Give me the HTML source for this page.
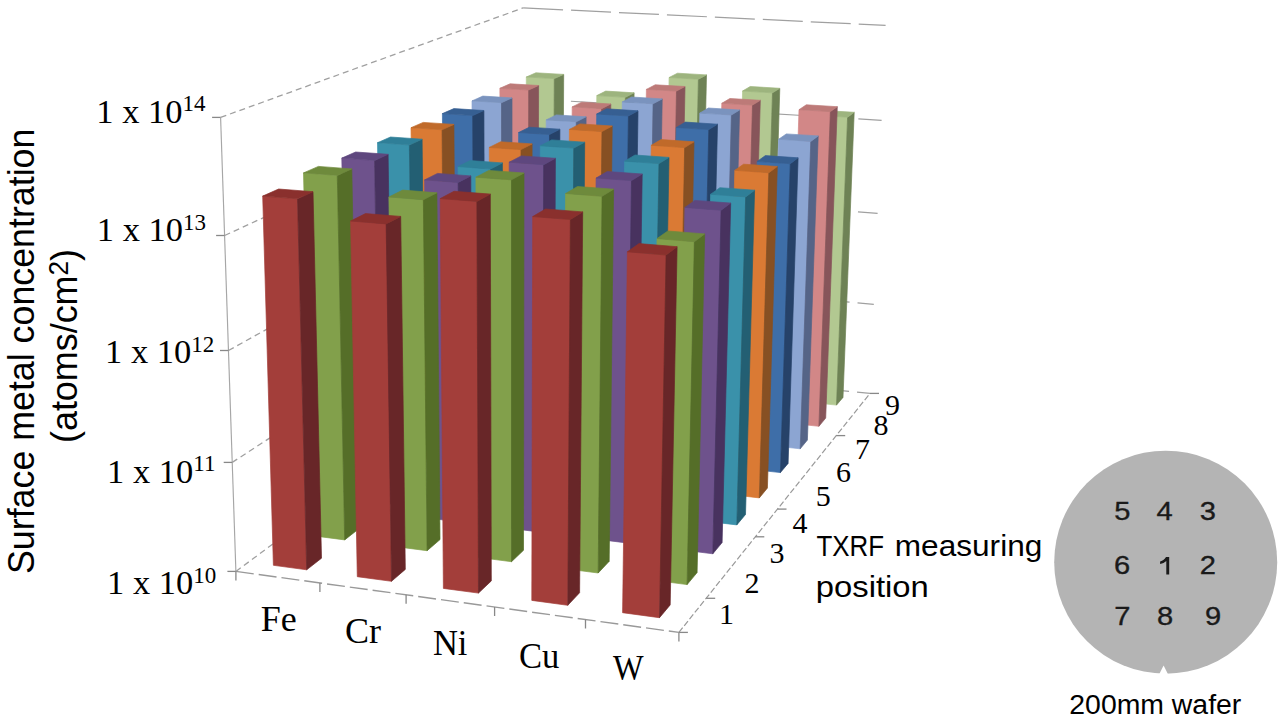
<!DOCTYPE html>
<html><head><meta charset="utf-8"><style>
html,body{margin:0;padding:0;background:#fff;width:1280px;height:722px;overflow:hidden}
svg{display:block}
</style></head><body>
<svg width="1280" height="722" viewBox="0 0 1280 722">
<rect width="1280" height="722" fill="#fff"/>
<line x1="235.9" y1="571.4" x2="522.7" y2="358.6" stroke="#a0a0a0" stroke-width="1.3" stroke-dasharray="6 4"/>
<line x1="522.7" y1="358.6" x2="870.0" y2="393.4" stroke="#a0a0a0" stroke-width="1.2" stroke-dasharray="40 8"/>
<line x1="232.2" y1="462.4" x2="522.8" y2="273.6" stroke="#a0a0a0" stroke-width="1.3" stroke-dasharray="6 4"/>
<line x1="522.8" y1="273.6" x2="873.8" y2="304.3" stroke="#a0a0a0" stroke-width="1.2" stroke-dasharray="40 8"/>
<line x1="228.5" y1="350.5" x2="522.9" y2="186.8" stroke="#a0a0a0" stroke-width="1.3" stroke-dasharray="6 4"/>
<line x1="522.9" y1="186.8" x2="877.6" y2="213.3" stroke="#a0a0a0" stroke-width="1.2" stroke-dasharray="40 8"/>
<line x1="224.6" y1="235.5" x2="523.0" y2="98.3" stroke="#a0a0a0" stroke-width="1.3" stroke-dasharray="6 4"/>
<line x1="523.0" y1="98.3" x2="881.6" y2="120.4" stroke="#a0a0a0" stroke-width="1.2" stroke-dasharray="40 8"/>
<line x1="220.6" y1="117.4" x2="523.1" y2="7.9" stroke="#a0a0a0" stroke-width="1.3" stroke-dasharray="6 4"/>
<line x1="523.1" y1="7.9" x2="885.6" y2="25.4" stroke="#a0a0a0" stroke-width="1.2" stroke-dasharray="40 8"/>
<line x1="235.9" y1="571.4" x2="220.6" y2="117.4" stroke="#a6a6a6" stroke-width="1.15"/>
<line x1="227.4" y1="571.4" x2="235.9" y2="571.4" stroke="#888" stroke-width="1.3"/>
<line x1="223.7" y1="462.4" x2="232.2" y2="462.4" stroke="#888" stroke-width="1.3"/>
<line x1="220.0" y1="350.5" x2="228.5" y2="350.5" stroke="#888" stroke-width="1.3"/>
<line x1="216.1" y1="235.5" x2="224.6" y2="235.5" stroke="#888" stroke-width="1.3"/>
<line x1="212.1" y1="117.4" x2="220.6" y2="117.4" stroke="#888" stroke-width="1.3"/>
<line x1="235.9" y1="571.4" x2="678.9" y2="632.4" stroke="#999" stroke-width="1.4" stroke-dasharray="18 5"/>
<line x1="678.9" y1="632.4" x2="870.0" y2="393.4" stroke="#999" stroke-width="1.2" stroke-dasharray="6 2.5"/>
<line x1="235.9" y1="571.4" x2="235.9" y2="580.4" stroke="#888" stroke-width="1.3"/>
<line x1="319.9" y1="583.0" x2="319.9" y2="592.0" stroke="#888" stroke-width="1.3"/>
<line x1="406.1" y1="594.8" x2="406.1" y2="603.8" stroke="#888" stroke-width="1.3"/>
<line x1="494.6" y1="607.0" x2="494.6" y2="616.0" stroke="#888" stroke-width="1.3"/>
<line x1="585.5" y1="619.5" x2="585.5" y2="628.5" stroke="#888" stroke-width="1.3"/>
<line x1="678.9" y1="632.4" x2="678.9" y2="641.4" stroke="#888" stroke-width="1.3"/>
<line x1="678.9" y1="632.4" x2="687.9" y2="632.4" stroke="#888" stroke-width="1.3"/>
<line x1="706.2" y1="598.3" x2="715.2" y2="598.3" stroke="#888" stroke-width="1.3"/>
<line x1="755.3" y1="536.8" x2="764.3" y2="536.8" stroke="#888" stroke-width="1.3"/>
<line x1="777.5" y1="509.1" x2="786.5" y2="509.1" stroke="#888" stroke-width="1.3"/>
<line x1="836.2" y1="435.6" x2="845.2" y2="435.6" stroke="#888" stroke-width="1.3"/>
<line x1="870.0" y1="393.4" x2="879.0" y2="393.4" stroke="#888" stroke-width="1.3"/>
<polygon points="525.8,373.3 552.9,376.1 554.3,78.6 526.3,77.0" fill="#B2C891" stroke="#B2C891" stroke-width="0.7" stroke-linejoin="round"/>
<polygon points="552.9,376.1 562.0,369.0 563.7,74.4 554.3,78.6" fill="#6E8255" stroke="#6E8255" stroke-width="0.7" stroke-linejoin="round"/>
<polygon points="526.3,77.0 554.3,78.6 563.7,74.4 535.9,72.8" fill="#9DB47E" stroke="#9DB47E" stroke-width="0.7" stroke-linejoin="round"/>
<polygon points="594.0,380.3 621.7,383.2 625.4,97.3 596.8,95.6" fill="#B2C891" stroke="#B2C891" stroke-width="0.7" stroke-linejoin="round"/>
<polygon points="621.7,383.2 630.1,375.9 634.1,92.8 625.4,97.3" fill="#6E8255" stroke="#6E8255" stroke-width="0.7" stroke-linejoin="round"/>
<polygon points="596.8,95.6 625.4,97.3 634.1,92.8 605.7,91.1" fill="#9DB47E" stroke="#9DB47E" stroke-width="0.7" stroke-linejoin="round"/>
<polygon points="663.6,387.4 691.8,390.3 698.4,79.2 669.1,77.5" fill="#B2C891" stroke="#B2C891" stroke-width="0.7" stroke-linejoin="round"/>
<polygon points="691.8,390.3 699.6,382.9 706.5,74.9 698.4,79.2" fill="#6E8255" stroke="#6E8255" stroke-width="0.7" stroke-linejoin="round"/>
<polygon points="669.1,77.5 698.4,79.2 706.5,74.9 677.5,73.2" fill="#9DB47E" stroke="#9DB47E" stroke-width="0.7" stroke-linejoin="round"/>
<polygon points="734.6,394.7 763.4,397.7 772.5,92.8 742.6,91.0" fill="#B2C891" stroke="#B2C891" stroke-width="0.7" stroke-linejoin="round"/>
<polygon points="763.4,397.7 770.6,390.1 779.8,88.3 772.5,92.8" fill="#6E8255" stroke="#6E8255" stroke-width="0.7" stroke-linejoin="round"/>
<polygon points="742.6,91.0 772.5,92.8 779.8,88.3 750.2,86.5" fill="#9DB47E" stroke="#9DB47E" stroke-width="0.7" stroke-linejoin="round"/>
<polygon points="500.4,392.7 528.1,395.6 528.7,90.0 499.9,88.3" fill="#D28787" stroke="#D28787" stroke-width="0.7" stroke-linejoin="round"/>
<polygon points="528.1,395.6 537.7,388.1 538.6,85.5 528.7,90.0" fill="#87555A" stroke="#87555A" stroke-width="0.7" stroke-linejoin="round"/>
<polygon points="499.9,88.3 528.7,90.0 538.6,85.5 510.1,83.8" fill="#BD7A78" stroke="#BD7A78" stroke-width="0.7" stroke-linejoin="round"/>
<polygon points="807.1,402.1 836.5,405.1 847.6,117.2 817.2,115.3" fill="#B2C891" stroke="#B2C891" stroke-width="0.7" stroke-linejoin="round"/>
<polygon points="836.5,405.1 843.0,397.4 854.2,112.3 847.6,117.2" fill="#6E8255" stroke="#6E8255" stroke-width="0.7" stroke-linejoin="round"/>
<polygon points="817.2,115.3 847.6,117.2 854.2,112.3 824.0,110.5" fill="#9DB47E" stroke="#9DB47E" stroke-width="0.7" stroke-linejoin="round"/>
<polygon points="570.2,400.1 598.5,403.1 601.6,108.7 572.2,106.9" fill="#D28787" stroke="#D28787" stroke-width="0.7" stroke-linejoin="round"/>
<polygon points="598.5,403.1 607.5,395.4 610.8,104.0 601.6,108.7" fill="#87555A" stroke="#87555A" stroke-width="0.7" stroke-linejoin="round"/>
<polygon points="572.2,106.9 601.6,108.7 610.8,104.0 581.7,102.2" fill="#BD7A78" stroke="#BD7A78" stroke-width="0.7" stroke-linejoin="round"/>
<polygon points="641.5,407.6 670.4,410.6 676.5,91.1 646.4,89.4" fill="#D28787" stroke="#D28787" stroke-width="0.7" stroke-linejoin="round"/>
<polygon points="670.4,410.6 678.7,402.8 685.0,86.5 676.5,91.1" fill="#87555A" stroke="#87555A" stroke-width="0.7" stroke-linejoin="round"/>
<polygon points="646.4,89.4 676.5,91.1 685.0,86.5 655.2,84.8" fill="#BD7A78" stroke="#BD7A78" stroke-width="0.7" stroke-linejoin="round"/>
<polygon points="714.3,415.3 743.9,418.4 752.5,105.1 721.8,103.3" fill="#D28787" stroke="#D28787" stroke-width="0.7" stroke-linejoin="round"/>
<polygon points="743.9,418.4 751.4,410.4 760.3,100.3 752.5,105.1" fill="#87555A" stroke="#87555A" stroke-width="0.7" stroke-linejoin="round"/>
<polygon points="721.8,103.3 752.5,105.1 760.3,100.3 729.9,98.5" fill="#BD7A78" stroke="#BD7A78" stroke-width="0.7" stroke-linejoin="round"/>
<polygon points="473.5,413.1 501.9,416.2 501.5,102.7 472.0,100.9" fill="#8CA5D2" stroke="#8CA5D2" stroke-width="0.7" stroke-linejoin="round"/>
<polygon points="501.9,416.2 512.1,408.3 512.0,97.9 501.5,102.7" fill="#556487" stroke="#556487" stroke-width="0.7" stroke-linejoin="round"/>
<polygon points="472.0,100.9 501.5,102.7 512.0,97.9 482.8,96.1" fill="#7A93BE" stroke="#7A93BE" stroke-width="0.7" stroke-linejoin="round"/>
<polygon points="788.7,423.1 818.9,426.3 830.4,111.6 799.0,109.7" fill="#D28787" stroke="#D28787" stroke-width="0.7" stroke-linejoin="round"/>
<polygon points="818.9,426.3 825.7,418.1 837.3,106.7 830.4,111.6" fill="#87555A" stroke="#87555A" stroke-width="0.7" stroke-linejoin="round"/>
<polygon points="799.0,109.7 830.4,111.6 837.3,106.7 806.3,104.8" fill="#BD7A78" stroke="#BD7A78" stroke-width="0.7" stroke-linejoin="round"/>
<polygon points="545.0,420.9 574.1,424.1 576.3,121.8 546.2,119.9" fill="#8CA5D2" stroke="#8CA5D2" stroke-width="0.7" stroke-linejoin="round"/>
<polygon points="574.1,424.1 583.6,416.0 586.1,116.8 576.3,121.8" fill="#556487" stroke="#556487" stroke-width="0.7" stroke-linejoin="round"/>
<polygon points="546.2,119.9 576.3,121.8 586.1,116.8 556.3,114.9" fill="#7A93BE" stroke="#7A93BE" stroke-width="0.7" stroke-linejoin="round"/>
<polygon points="618.1,428.9 647.8,432.1 653.1,103.8 622.3,101.9" fill="#8CA5D2" stroke="#8CA5D2" stroke-width="0.7" stroke-linejoin="round"/>
<polygon points="647.8,432.1 656.6,423.8 662.2,98.9 653.1,103.8" fill="#556487" stroke="#556487" stroke-width="0.7" stroke-linejoin="round"/>
<polygon points="622.3,101.9 653.1,103.8 662.2,98.9 631.6,97.0" fill="#7A93BE" stroke="#7A93BE" stroke-width="0.7" stroke-linejoin="round"/>
<polygon points="445.0,434.8 474.2,438.1 472.7,115.6 442.4,113.6" fill="#3E6EA8" stroke="#3E6EA8" stroke-width="0.7" stroke-linejoin="round"/>
<polygon points="474.2,438.1 484.9,429.6 483.9,110.5 472.7,115.6" fill="#264269" stroke="#264269" stroke-width="0.7" stroke-linejoin="round"/>
<polygon points="442.4,113.6 472.7,115.6 483.9,110.5 453.9,108.6" fill="#365F92" stroke="#365F92" stroke-width="0.7" stroke-linejoin="round"/>
<polygon points="692.8,437.1 723.2,440.4 731.4,115.0 699.8,113.1" fill="#8CA5D2" stroke="#8CA5D2" stroke-width="0.7" stroke-linejoin="round"/>
<polygon points="723.2,440.4 731.2,431.9 739.6,110.0 731.4,115.0" fill="#556487" stroke="#556487" stroke-width="0.7" stroke-linejoin="round"/>
<polygon points="699.8,113.1 731.4,115.0 739.6,110.0 708.4,108.0" fill="#7A93BE" stroke="#7A93BE" stroke-width="0.7" stroke-linejoin="round"/>
<polygon points="769.2,445.4 800.2,448.8 810.8,141.4 778.6,139.3" fill="#8CA5D2" stroke="#8CA5D2" stroke-width="0.7" stroke-linejoin="round"/>
<polygon points="800.2,448.8 807.4,440.1 818.2,135.9 810.8,141.4" fill="#556487" stroke="#556487" stroke-width="0.7" stroke-linejoin="round"/>
<polygon points="778.6,139.3 810.8,141.4 818.2,135.9 786.3,133.9" fill="#7A93BE" stroke="#7A93BE" stroke-width="0.7" stroke-linejoin="round"/>
<polygon points="518.4,443.0 548.2,446.4 549.5,134.5 518.6,132.5" fill="#3E6EA8" stroke="#3E6EA8" stroke-width="0.7" stroke-linejoin="round"/>
<polygon points="548.2,446.4 558.2,437.8 559.9,129.2 549.5,134.5" fill="#264269" stroke="#264269" stroke-width="0.7" stroke-linejoin="round"/>
<polygon points="518.6,132.5 549.5,134.5 559.9,129.2 529.3,127.2" fill="#365F92" stroke="#365F92" stroke-width="0.7" stroke-linejoin="round"/>
<polygon points="593.4,451.5 623.9,454.9 628.4,116.0 596.7,114.0" fill="#3E6EA8" stroke="#3E6EA8" stroke-width="0.7" stroke-linejoin="round"/>
<polygon points="623.9,454.9 633.1,446.1 638.0,110.8 628.4,116.0" fill="#264269" stroke="#264269" stroke-width="0.7" stroke-linejoin="round"/>
<polygon points="596.7,114.0 628.4,116.0 638.0,110.8 606.6,108.8" fill="#365F92" stroke="#365F92" stroke-width="0.7" stroke-linejoin="round"/>
<polygon points="414.9,457.7 444.8,461.2 442.1,129.8 411.0,127.7" fill="#DA7A34" stroke="#DA7A34" stroke-width="0.7" stroke-linejoin="round"/>
<polygon points="444.8,461.2 456.1,452.3 453.9,124.4 442.1,129.8" fill="#875023" stroke="#875023" stroke-width="0.7" stroke-linejoin="round"/>
<polygon points="411.0,127.7 442.1,129.8 453.9,124.4 423.2,122.4" fill="#C06A2A" stroke="#C06A2A" stroke-width="0.7" stroke-linejoin="round"/>
<polygon points="670.1,460.2 701.2,463.7 708.8,129.6 676.3,127.5" fill="#3E6EA8" stroke="#3E6EA8" stroke-width="0.7" stroke-linejoin="round"/>
<polygon points="701.2,463.7 709.7,454.6 717.5,124.2 708.8,129.6" fill="#264269" stroke="#264269" stroke-width="0.7" stroke-linejoin="round"/>
<polygon points="676.3,127.5 708.8,129.6 717.5,124.2 685.4,122.1" fill="#365F92" stroke="#365F92" stroke-width="0.7" stroke-linejoin="round"/>
<polygon points="748.5,469.0 780.4,472.6 790.3,163.7 757.2,161.4" fill="#3E6EA8" stroke="#3E6EA8" stroke-width="0.7" stroke-linejoin="round"/>
<polygon points="780.4,472.6 788.1,463.4 798.1,157.8 790.3,163.7" fill="#264269" stroke="#264269" stroke-width="0.7" stroke-linejoin="round"/>
<polygon points="757.2,161.4 790.3,163.7 798.1,157.8 765.4,155.6" fill="#365F92" stroke="#365F92" stroke-width="0.7" stroke-linejoin="round"/>
<polygon points="490.1,466.5 520.7,470.1 521.0,149.6 489.3,147.4" fill="#DA7A34" stroke="#DA7A34" stroke-width="0.7" stroke-linejoin="round"/>
<polygon points="520.7,470.1 531.3,460.9 532.1,143.9 521.0,149.6" fill="#875023" stroke="#875023" stroke-width="0.7" stroke-linejoin="round"/>
<polygon points="489.3,147.4 521.0,149.6 532.1,143.9 500.6,141.8" fill="#C06A2A" stroke="#C06A2A" stroke-width="0.7" stroke-linejoin="round"/>
<polygon points="567.1,475.5 598.4,479.1 602.0,131.5 569.4,129.4" fill="#DA7A34" stroke="#DA7A34" stroke-width="0.7" stroke-linejoin="round"/>
<polygon points="598.4,479.1 608.2,469.8 612.2,126.0 602.0,131.5" fill="#875023" stroke="#875023" stroke-width="0.7" stroke-linejoin="round"/>
<polygon points="569.4,129.4 602.0,131.5 612.2,126.0 579.9,123.9" fill="#C06A2A" stroke="#C06A2A" stroke-width="0.7" stroke-linejoin="round"/>
<polygon points="382.8,482.1 413.5,485.8 409.4,145.0 377.5,142.7" fill="#3A91AA" stroke="#3A91AA" stroke-width="0.7" stroke-linejoin="round"/>
<polygon points="413.5,485.8 425.6,476.3 422.1,139.2 409.4,145.0" fill="#235F73" stroke="#235F73" stroke-width="0.7" stroke-linejoin="round"/>
<polygon points="377.5,142.7 409.4,145.0 422.1,139.2 390.5,137.0" fill="#2F7F98" stroke="#2F7F98" stroke-width="0.7" stroke-linejoin="round"/>
<polygon points="645.9,484.7 677.9,488.4 684.7,147.6 651.3,145.3" fill="#DA7A34" stroke="#DA7A34" stroke-width="0.7" stroke-linejoin="round"/>
<polygon points="677.9,488.4 686.9,478.8 694.0,141.8 684.7,147.6" fill="#875023" stroke="#875023" stroke-width="0.7" stroke-linejoin="round"/>
<polygon points="651.3,145.3 684.7,147.6 694.0,141.8 661.0,139.6" fill="#C06A2A" stroke="#C06A2A" stroke-width="0.7" stroke-linejoin="round"/>
<polygon points="726.5,494.1 759.3,497.9 768.9,172.7 734.8,170.3" fill="#DA7A34" stroke="#DA7A34" stroke-width="0.7" stroke-linejoin="round"/>
<polygon points="759.3,497.9 767.4,488.1 777.3,166.5 768.9,172.7" fill="#875023" stroke="#875023" stroke-width="0.7" stroke-linejoin="round"/>
<polygon points="734.8,170.3 768.9,172.7 777.3,166.5 743.6,164.2" fill="#C06A2A" stroke="#C06A2A" stroke-width="0.7" stroke-linejoin="round"/>
<polygon points="460.1,491.4 491.5,495.2 490.6,169.0 458.0,166.6" fill="#3A91AA" stroke="#3A91AA" stroke-width="0.7" stroke-linejoin="round"/>
<polygon points="491.5,495.2 502.8,485.5 502.4,162.9 490.6,169.0" fill="#235F73" stroke="#235F73" stroke-width="0.7" stroke-linejoin="round"/>
<polygon points="458.0,166.6 490.6,169.0 502.4,162.9 470.1,160.6" fill="#2F7F98" stroke="#2F7F98" stroke-width="0.7" stroke-linejoin="round"/>
<polygon points="539.1,501.0 571.3,504.9 573.8,148.1 540.3,145.8" fill="#3A91AA" stroke="#3A91AA" stroke-width="0.7" stroke-linejoin="round"/>
<polygon points="571.3,504.9 581.8,494.9 584.7,142.2 573.8,148.1" fill="#235F73" stroke="#235F73" stroke-width="0.7" stroke-linejoin="round"/>
<polygon points="540.3,145.8 573.8,148.1 584.7,142.2 551.6,139.9" fill="#2F7F98" stroke="#2F7F98" stroke-width="0.7" stroke-linejoin="round"/>
<polygon points="348.7,508.0 380.2,512.0 374.6,160.5 341.8,158.1" fill="#6E528C" stroke="#6E528C" stroke-width="0.7" stroke-linejoin="round"/>
<polygon points="380.2,512.0 393.1,501.9 388.1,154.3 374.6,160.5" fill="#48325F" stroke="#48325F" stroke-width="0.7" stroke-linejoin="round"/>
<polygon points="341.8,158.1 374.6,160.5 388.1,154.3 355.6,152.0" fill="#5E477E" stroke="#5E477E" stroke-width="0.7" stroke-linejoin="round"/>
<polygon points="620.1,510.8 653.0,514.8 659.0,163.6 624.6,161.2" fill="#3A91AA" stroke="#3A91AA" stroke-width="0.7" stroke-linejoin="round"/>
<polygon points="653.0,514.8 662.7,504.6 669.0,157.4 659.0,163.6" fill="#235F73" stroke="#235F73" stroke-width="0.7" stroke-linejoin="round"/>
<polygon points="624.6,161.2 659.0,163.6 669.0,157.4 635.0,155.0" fill="#2F7F98" stroke="#2F7F98" stroke-width="0.7" stroke-linejoin="round"/>
<polygon points="428.0,518.0 460.3,522.1 458.2,182.4 424.6,179.9" fill="#6E528C" stroke="#6E528C" stroke-width="0.7" stroke-linejoin="round"/>
<polygon points="460.3,522.1 472.4,511.7 470.8,175.9 458.2,182.4" fill="#48325F" stroke="#48325F" stroke-width="0.7" stroke-linejoin="round"/>
<polygon points="424.6,179.9 458.2,182.4 470.8,175.9 437.5,173.4" fill="#5E477E" stroke="#5E477E" stroke-width="0.7" stroke-linejoin="round"/>
<polygon points="703.1,520.9 736.8,524.9 745.7,196.9 710.6,194.3" fill="#3A91AA" stroke="#3A91AA" stroke-width="0.7" stroke-linejoin="round"/>
<polygon points="736.8,524.9 745.5,514.5 754.6,190.2 745.7,196.9" fill="#235F73" stroke="#235F73" stroke-width="0.7" stroke-linejoin="round"/>
<polygon points="710.6,194.3 745.7,196.9 754.6,190.2 719.9,187.7" fill="#2F7F98" stroke="#2F7F98" stroke-width="0.7" stroke-linejoin="round"/>
<polygon points="509.3,528.2 542.4,532.4 543.7,164.7 509.2,162.2" fill="#6E528C" stroke="#6E528C" stroke-width="0.7" stroke-linejoin="round"/>
<polygon points="542.4,532.4 553.6,521.7 555.4,158.3 543.7,164.7" fill="#48325F" stroke="#48325F" stroke-width="0.7" stroke-linejoin="round"/>
<polygon points="509.2,162.2 543.7,164.7 555.4,158.3 521.3,155.9" fill="#5E477E" stroke="#5E477E" stroke-width="0.7" stroke-linejoin="round"/>
<polygon points="312.3,535.7 344.7,539.9 337.3,175.4 303.5,172.9" fill="#82A04B" stroke="#82A04B" stroke-width="0.7" stroke-linejoin="round"/>
<polygon points="344.7,539.9 358.5,529.1 351.8,168.9 337.3,175.4" fill="#556E28" stroke="#556E28" stroke-width="0.7" stroke-linejoin="round"/>
<polygon points="303.5,172.9 337.3,175.4 351.8,168.9 318.4,166.4" fill="#6E8A3C" stroke="#6E8A3C" stroke-width="0.7" stroke-linejoin="round"/>
<polygon points="592.6,538.7 626.5,542.9 631.5,180.6 596.1,178.1" fill="#6E528C" stroke="#6E528C" stroke-width="0.7" stroke-linejoin="round"/>
<polygon points="626.5,542.9 636.8,532.0 642.2,174.0 631.5,180.6" fill="#48325F" stroke="#48325F" stroke-width="0.7" stroke-linejoin="round"/>
<polygon points="596.1,178.1 631.5,180.6 642.2,174.0 607.2,171.5" fill="#5E477E" stroke="#5E477E" stroke-width="0.7" stroke-linejoin="round"/>
<polygon points="393.9,546.4 427.1,550.7 423.4,199.7 388.9,197.0" fill="#82A04B" stroke="#82A04B" stroke-width="0.7" stroke-linejoin="round"/>
<polygon points="427.1,550.7 440.0,539.6 436.9,192.8 423.4,199.7" fill="#556E28" stroke="#556E28" stroke-width="0.7" stroke-linejoin="round"/>
<polygon points="388.9,197.0 423.4,199.7 436.9,192.8 402.7,190.1" fill="#6E8A3C" stroke="#6E8A3C" stroke-width="0.7" stroke-linejoin="round"/>
<polygon points="678.0,549.4 712.8,553.8 721.1,210.2 684.9,207.4" fill="#6E528C" stroke="#6E528C" stroke-width="0.7" stroke-linejoin="round"/>
<polygon points="712.8,553.8 722.1,542.6 730.7,203.1 721.1,210.2" fill="#48325F" stroke="#48325F" stroke-width="0.7" stroke-linejoin="round"/>
<polygon points="684.9,207.4 721.1,210.2 730.7,203.1 694.9,200.4" fill="#5E477E" stroke="#5E477E" stroke-width="0.7" stroke-linejoin="round"/>
<polygon points="477.5,557.3 511.5,561.7 511.5,179.8 475.9,177.2" fill="#82A04B" stroke="#82A04B" stroke-width="0.7" stroke-linejoin="round"/>
<polygon points="511.5,561.7 523.5,550.3 524.0,173.0 511.5,179.8" fill="#556E28" stroke="#556E28" stroke-width="0.7" stroke-linejoin="round"/>
<polygon points="475.9,177.2 511.5,179.8 524.0,173.0 488.8,170.4" fill="#6E8A3C" stroke="#6E8A3C" stroke-width="0.7" stroke-linejoin="round"/>
<polygon points="273.4,565.3 306.7,569.8 297.5,198.8 262.7,196.1" fill="#A33E3A" stroke="#A33E3A" stroke-width="0.7" stroke-linejoin="round"/>
<polygon points="306.7,569.8 321.5,558.2 313.0,191.7 297.5,198.8" fill="#682628" stroke="#682628" stroke-width="0.7" stroke-linejoin="round"/>
<polygon points="262.7,196.1 297.5,198.8 313.0,191.7 278.6,189.0" fill="#8A302D" stroke="#8A302D" stroke-width="0.7" stroke-linejoin="round"/>
<polygon points="563.3,568.5 598.2,573.0 602.1,196.3 565.6,193.5" fill="#82A04B" stroke="#82A04B" stroke-width="0.7" stroke-linejoin="round"/>
<polygon points="598.2,573.0 609.2,561.3 613.6,189.2 602.1,196.3" fill="#556E28" stroke="#556E28" stroke-width="0.7" stroke-linejoin="round"/>
<polygon points="565.6,193.5 602.1,196.3 613.6,189.2 577.5,186.5" fill="#6E8A3C" stroke="#6E8A3C" stroke-width="0.7" stroke-linejoin="round"/>
<polygon points="357.3,576.7 391.5,581.3 386.2,223.9 350.6,221.0" fill="#A33E3A" stroke="#A33E3A" stroke-width="0.7" stroke-linejoin="round"/>
<polygon points="391.5,581.3 405.3,569.4 400.7,216.4 386.2,223.9" fill="#682628" stroke="#682628" stroke-width="0.7" stroke-linejoin="round"/>
<polygon points="350.6,221.0 386.2,223.9 400.7,216.4 365.5,213.6" fill="#8A302D" stroke="#8A302D" stroke-width="0.7" stroke-linejoin="round"/>
<polygon points="651.3,579.9 687.1,584.6 694.4,241.7 657.0,238.6" fill="#82A04B" stroke="#82A04B" stroke-width="0.7" stroke-linejoin="round"/>
<polygon points="687.1,584.6 697.1,572.6 704.7,233.9 694.4,241.7" fill="#556E28" stroke="#556E28" stroke-width="0.7" stroke-linejoin="round"/>
<polygon points="657.0,238.6 694.4,241.7 704.7,233.9 667.8,231.0" fill="#6E8A3C" stroke="#6E8A3C" stroke-width="0.7" stroke-linejoin="round"/>
<polygon points="443.4,588.4 478.5,593.1 476.9,201.4 440.2,198.6" fill="#A33E3A" stroke="#A33E3A" stroke-width="0.7" stroke-linejoin="round"/>
<polygon points="478.5,593.1 491.3,580.9 490.3,194.1 476.9,201.4" fill="#682628" stroke="#682628" stroke-width="0.7" stroke-linejoin="round"/>
<polygon points="440.2,198.6 476.9,201.4 490.3,194.1 454.0,191.3" fill="#8A302D" stroke="#8A302D" stroke-width="0.7" stroke-linejoin="round"/>
<polygon points="531.8,600.4 567.8,605.3 570.4,219.5 532.7,216.6" fill="#A33E3A" stroke="#A33E3A" stroke-width="0.7" stroke-linejoin="round"/>
<polygon points="567.8,605.3 579.6,592.7 582.7,211.9 570.4,219.5" fill="#682628" stroke="#682628" stroke-width="0.7" stroke-linejoin="round"/>
<polygon points="532.7,216.6 570.4,219.5 582.7,211.9 545.5,209.0" fill="#8A302D" stroke="#8A302D" stroke-width="0.7" stroke-linejoin="round"/>
<polygon points="622.6,612.7 659.5,617.7 666.1,255.0 627.4,251.8" fill="#A33E3A" stroke="#A33E3A" stroke-width="0.7" stroke-linejoin="round"/>
<polygon points="659.5,617.7 670.2,604.9 677.1,246.7 666.1,255.0" fill="#682628" stroke="#682628" stroke-width="0.7" stroke-linejoin="round"/>
<polygon points="627.4,251.8 666.1,255.0 677.1,246.7 639.0,243.6" fill="#8A302D" stroke="#8A302D" stroke-width="0.7" stroke-linejoin="round"/>
<text x="96.3" y="122.6" font-family="Liberation Serif, serif" font-size="34.5" fill="#000">1 x 10<tspan font-size="23" dy="-11.5">14</tspan></text>
<text x="96.8" y="241.2" font-family="Liberation Serif, serif" font-size="34.5" fill="#000">1 x 10<tspan font-size="23" dy="-11.5">13</tspan></text>
<text x="105.1" y="363.1" font-family="Liberation Serif, serif" font-size="34.5" fill="#000">1 x 10<tspan font-size="23" dy="-11.5">12</tspan></text>
<text x="107.0" y="482.8" font-family="Liberation Serif, serif" font-size="34.5" fill="#000">1 x 10<tspan font-size="23" dy="-11.5">11</tspan></text>
<text x="107.0" y="594.0" font-family="Liberation Serif, serif" font-size="34.5" fill="#000">1 x 10<tspan font-size="23" dy="-11.5">10</tspan></text>
<text transform="translate(260.8,631.1) scale(1.0,1)" font-family="Liberation Serif, serif" font-size="36" fill="#000">Fe</text>
<text transform="translate(345.0,642.8) scale(1.0,1)" font-family="Liberation Serif, serif" font-size="36" fill="#000">Cr</text>
<text transform="translate(432.9,654.8) scale(0.96,1)" font-family="Liberation Serif, serif" font-size="36" fill="#000">Ni</text>
<text transform="translate(519.0,667.5) scale(0.96,1)" font-family="Liberation Serif, serif" font-size="36" fill="#000">Cu</text>
<text transform="translate(613.1,680.0) scale(0.9,1)" font-family="Liberation Serif, serif" font-size="36" fill="#000">W</text>
<text x="719.0" y="624.2" font-family="Liberation Serif, serif" font-size="30" fill="#000">1</text>
<text x="744.4" y="592.7" font-family="Liberation Serif, serif" font-size="30" fill="#000">2</text>
<text x="769.4" y="562.5" font-family="Liberation Serif, serif" font-size="30" fill="#000">3</text>
<text x="792.5" y="533.0" font-family="Liberation Serif, serif" font-size="30" fill="#000">4</text>
<text x="815.8" y="506.1" font-family="Liberation Serif, serif" font-size="30" fill="#000">5</text>
<text x="836.1" y="481.9" font-family="Liberation Serif, serif" font-size="30" fill="#000">6</text>
<text x="854.9" y="458.6" font-family="Liberation Serif, serif" font-size="30" fill="#000">7</text>
<text x="873.4" y="435.3" font-family="Liberation Serif, serif" font-size="30" fill="#000">8</text>
<text x="885.1" y="414.9" font-family="Liberation Serif, serif" font-size="30" fill="#000">9</text>
<text transform="translate(33.6,574.0) rotate(-90)" font-family="Liberation Sans, sans-serif" font-size="37" textLength="445.4" lengthAdjust="spacingAndGlyphs" fill="#000">Surface metal concentration</text>
<text transform="translate(76.9,443.0) rotate(-90)" font-family="Liberation Sans, sans-serif" font-size="37" textLength="194" lengthAdjust="spacingAndGlyphs" fill="#000">(atoms/cm<tspan font-size="27" dy="-8.5">2</tspan><tspan dy="8.5">)</tspan></text>
<text x="816.5" y="555.6" font-family="Liberation Sans, sans-serif" font-size="29" textLength="67.6" lengthAdjust="spacingAndGlyphs" fill="#000">TXRF</text>
<text x="894.8" y="555.6" font-family="Liberation Sans, sans-serif" font-size="29" textLength="147.5" lengthAdjust="spacingAndGlyphs" fill="#000">measuring</text>
<text x="815.8" y="596.9" font-family="Liberation Sans, sans-serif" font-size="30" textLength="113" lengthAdjust="spacingAndGlyphs" fill="#000">position</text>
<circle cx="1165.7" cy="562.2" r="111.5" fill="#B4B4B4"/>
<polygon points="1158.8,675 1163.6,665.6 1168.4,675" fill="#fff"/>
<text transform="translate(1114.3,520.1) scale(1.12,1)" font-family="Liberation Sans, sans-serif" font-size="26" fill="#1a1a1a" stroke="#1a1a1a" stroke-width="0.35">5</text>
<text transform="translate(1156.6,520.1) scale(1.12,1)" font-family="Liberation Sans, sans-serif" font-size="26" fill="#1a1a1a" stroke="#1a1a1a" stroke-width="0.35">4</text>
<text transform="translate(1199.7,520.1) scale(1.12,1)" font-family="Liberation Sans, sans-serif" font-size="26" fill="#1a1a1a" stroke="#1a1a1a" stroke-width="0.35">3</text>
<text transform="translate(1113.9,574.4) scale(1.12,1)" font-family="Liberation Sans, sans-serif" font-size="26" fill="#1a1a1a" stroke="#1a1a1a" stroke-width="0.35">6</text>
<path d="M1169.2,556.9 L1169.2,574.4 L1166.3,574.4 L1166.3,561.0 C1164.6,562.6 1162.6,563.6 1160.1,564.0 L1160.1,561.4 C1162.9,560.6 1164.8,558.9 1166.0,556.9 Z" fill="#1a1a1a"/>
<text transform="translate(1199.7,574.4) scale(1.12,1)" font-family="Liberation Sans, sans-serif" font-size="26" fill="#1a1a1a" stroke="#1a1a1a" stroke-width="0.35">2</text>
<text transform="translate(1114.3,624.8) scale(1.12,1)" font-family="Liberation Sans, sans-serif" font-size="26" fill="#1a1a1a" stroke="#1a1a1a" stroke-width="0.35">7</text>
<text transform="translate(1157.0,624.8) scale(1.12,1)" font-family="Liberation Sans, sans-serif" font-size="26" fill="#1a1a1a" stroke="#1a1a1a" stroke-width="0.35">8</text>
<text transform="translate(1205.1,624.8) scale(1.12,1)" font-family="Liberation Sans, sans-serif" font-size="26" fill="#1a1a1a" stroke="#1a1a1a" stroke-width="0.35">9</text>
<text x="1069.3" y="713.6" font-family="Liberation Sans, sans-serif" font-size="27" textLength="172" lengthAdjust="spacingAndGlyphs" fill="#000">200mm wafer</text>
</svg>
</body></html>
